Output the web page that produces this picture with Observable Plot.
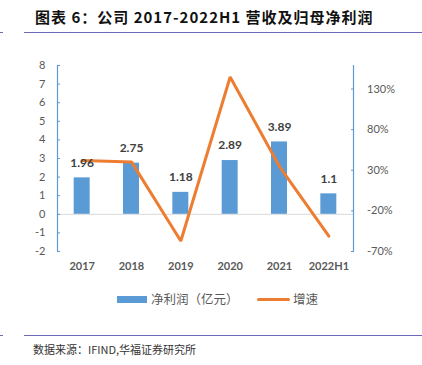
<!DOCTYPE html>
<html><head><meta charset="utf-8">
<script src="https://cdn.jsdelivr.net/npm/d3@7"></script>
<script src="https://cdn.jsdelivr.net/npm/@observablehq/plot@0.6"></script>
<style>
html,body{margin:0;padding:0;background:#fff;}
#wrap{position:relative;width:422px;height:365px;overflow:hidden;font-family:"Noto Sans CJK SC","Noto Sans",sans-serif;}
#chart{position:absolute;left:0;top:0;}
.abs{position:absolute;white-space:nowrap;}
</style></head><body>
<div id="wrap">
<div id="chart"></div>
<div class="abs" id="title" style="left:35px;top:7px;font-size:15px;font-weight:bold;color:#111;letter-spacing:1px;line-height:20px;"></div>
<div class="abs" style="left:24px;top:31.5px;width:398px;height:1.2px;background:#6a6ab8"></div>
<div class="abs" style="left:0;top:31.5px;width:3px;height:1px;background:#6a6ab8"></div>
<div class="abs" style="left:117px;top:296px;width:30px;height:6.5px;background:#5b9bd5"></div>
<div class="abs" id="leg1" style="left:151px;top:290px;font-size:12.5px;line-height:18px;color:#595959"></div>
<div class="abs" style="left:257px;top:297.5px;width:33px;height:3px;background:#ed7d31;border-radius:1.5px"></div>
<div class="abs" id="leg2" style="left:293px;top:290px;font-size:12.5px;line-height:18px;color:#595959"></div>
<div class="abs" style="left:24px;top:334.5px;width:398px;height:1.2px;background:#6a6ab8"></div>
<div class="abs" style="left:0;top:334.5px;width:3px;height:1px;background:#6a6ab8"></div>
<div class="abs" id="source" style="left:33px;top:341px;font-size:11px;color:#333;line-height:16px"></div>
</div>
<script>
const titleText = "图表 6：公司 2017-2022H1 营收及归母净利润";
const sourceText = "数据来源：IFIND,华福证券研究所";
const categories = ["2017","2018","2019","2020","2021","2022H1"];
const netProfit = [1.96, 2.75, 1.18, 2.89, 3.89, 1.1];
const growth = [42, 40.3, -57.1, 144.9, 34.6, -51.2];
const leftTicks = [-2,-1,0,1,2,3,4,5,6,7,8];
const rightTicks = [-70,-20,30,80,130];
const seriesNames = ["净利润（亿元）","增速"];
const leftDomain = [-2, 8];
const rightDomain = [-70, 159];

document.getElementById("title").textContent = titleText;
document.getElementById("source").textContent = sourceText;
document.getElementById("leg1").textContent = seriesNames[0];
document.getElementById("leg2").textContent = seriesNames[1];

const toLeft = d3.scaleLinear(rightDomain, leftDomain);
const rows = categories.map((c, i) => ({c, i, x: i + 0.5, v: netProfit[i], g: toLeft(growth[i])}));
const half = 0.162;

const plot = Plot.plot({
  width: 422, height: 365,
  marginTop: 65, marginBottom: 114, marginLeft: 57, marginRight: 69,
  style: {fontFamily: "Lato, 'Noto Sans', sans-serif", fontSize: "11px", color: "#595959", background: "transparent"},
  x: {domain: [0, 6]},
  y: {domain: leftDomain},
  marks: [
    Plot.ruleY([0], {stroke: "#d9d9d9", strokeWidth: 1}),
    Plot.rectY(rows, {x1: d => d.x - half, x2: d => d.x + half, y1: 0, y2: "v", fill: "#5b9bd5"}),
    Plot.line(rows, {x: "x", y: "g", stroke: "#ed7d31", strokeWidth: 3, strokeLinejoin: "miter"}),
    Plot.text(rows, {x: "x", y: "v", text: d => String(d.v), dy: -15, fontWeight: "bold", fill: "#404040", fontSize: 12}),
    Plot.ruleX([0, 6], {stroke: "#5b9bd5", strokeWidth: 1.2}),
    Plot.axisY({anchor: "left", ticks: leftTicks, tickSize: 3, dx: 3, tickPadding: 12, stroke: "#5b9bd5", fill: "#595959", tickFormat: d => String(d), label: null}),
    Plot.axisY({anchor: "right", ticks: rightTicks.map(toLeft), tickSize: 3, dx: -3, tickPadding: 13.5, stroke: "#5b9bd5", fill: "#595959", tickFormat: v => Math.round(toLeft.invert(v)) + "%", label: null}),
    Plot.axisX({ticks: rows.map(d => d.x), tickFormat: v => categories[Math.floor(v)], tickSize: 0, tickPadding: 11, fontWeight: "bold", fill: "#595959", label: null})
  ]
});
document.getElementById("chart").appendChild(plot);
</script>
</body></html>
